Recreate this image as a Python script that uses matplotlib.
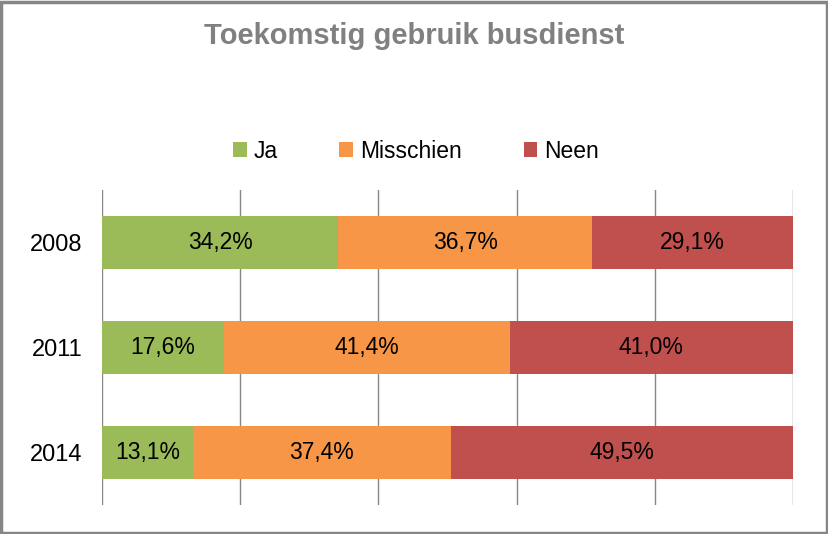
import matplotlib
matplotlib.use("Agg")
import matplotlib.pyplot as plt
from matplotlib.patches import Rectangle
import numpy as np

plt.rcParams['font.family'] = ['Liberation Sans', 'DejaVu Sans']

years = ["2008", "2011", "2014"]
series_names = ["Ja", "Misschien", "Neen"]
ja = [34.2, 17.6, 13.1]
misschien = [36.7, 41.4, 37.4]
neen = [29.1, 41.0, 49.5]
colors = ["#9BBB59", "#F79646", "#C0504D"]

fig = plt.figure(figsize=(8.29, 5.34), dpi=100)
ax = fig.add_axes([102/829, 1-505/534, (793-102)/829, (505-190)/534])

y = np.arange(len(years))
left = np.zeros(len(years))
handles = []
for name, vals, c in zip(series_names, [ja, misschien, neen], colors):
    vals = np.array(vals)
    b = ax.barh(y, vals, left=left, height=0.5, color=c, label=name, zorder=3)
    handles.append(b)
    for yi, l, v in zip(y, left, vals):
        ax.text(l + v/2, yi, f"{v:.1f}%".replace(".", ","), ha="center", va="center",
                fontsize=16.5, color="black", zorder=4)
    left = left + vals

ax.set_xlim(0, 100)
ax.set_ylim(2.5, -0.5)
ax.set_xticks([0, 20, 40, 60, 80, 100])
ax.xaxis.grid(True, color="#868686", linewidth=1, zorder=0)
ax.set_xticklabels([])
ax.tick_params(axis="x", length=0)
ax.set_yticks(y)
ax.set_yticklabels(years, fontsize=17)
ax.tick_params(axis="y", length=0, pad=14)
for s in ax.spines.values():
    s.set_visible(False)

fig.text(0.5, 1-36/534, "Toekomstig gebruik busdienst", ha="center", va="center",
         fontsize=21, fontweight="bold", color="#808080")

leg = fig.legend(handles=handles, labels=series_names, loc="center",
                 bbox_to_anchor=(416/829, 1-151/534), ncol=3, frameon=False,
                 fontsize=16.5, handlelength=0.6, handleheight=0.6, handletextpad=0.3,
                 columnspacing=2.7)

fig.patches.append(Rectangle((0.001, 0.002), 0.997, 0.995, transform=fig.transFigure,
                             fill=False, edgecolor="#868686", linewidth=2.5))

fig.savefig("out.png", dpi=100)
